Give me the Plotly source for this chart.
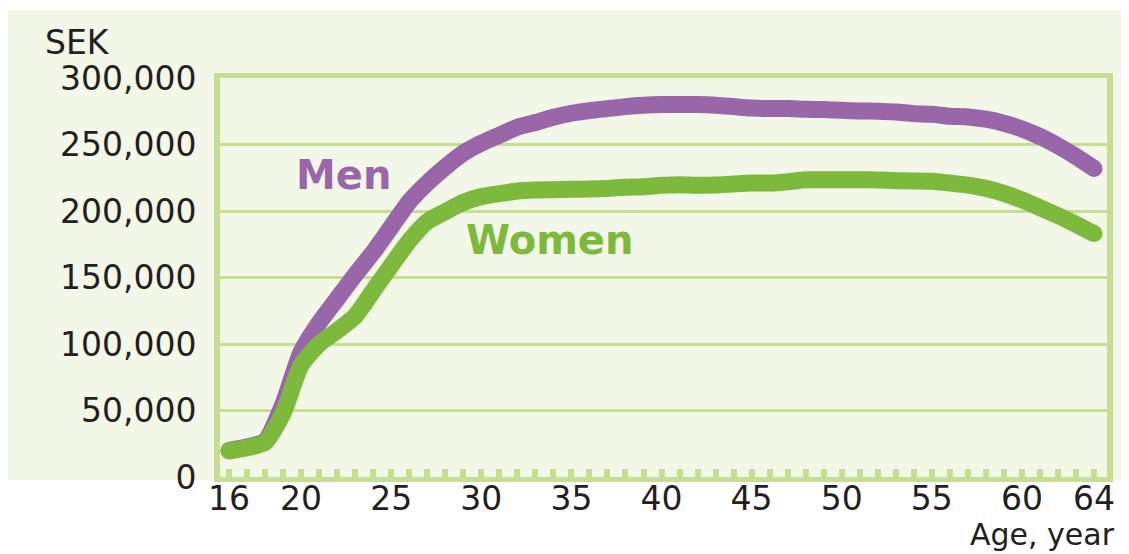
import plotly.graph_objects as go

ages = list(range(16, 65))
men = [20000, 22500, 27000, 55000, 94000, 116000, 134000, 152000, 169000, 188000,
       207000, 221000, 233000, 243500, 251000, 257000, 263000, 266500, 270500, 273500,
       275500, 277000, 278500, 279500, 280000, 280000, 280000, 279500, 278500, 277500,
       277000, 277000, 276500, 276300, 275700, 275200, 275000, 274400, 273200, 272700,
       271200, 270700, 269000, 266000, 261700, 256000, 249000, 241000, 232000]
women = [19500, 22000, 26000, 48000, 84000, 100000, 110000, 121000, 140000, 159000,
         177500, 192000, 199500, 206500, 210800, 213000, 215000, 215800, 216000, 216300,
         216500, 217000, 217800, 218300, 219300, 219800, 219300, 219500, 220300, 221000,
         221000, 222000, 223500, 223500, 223500, 223500, 223300, 222800, 222600, 222300,
         221000, 219500, 217000, 213300, 208300, 202500, 196500, 190000, 183000]
x_tickvals = [16, 20, 25, 30, 35, 40, 45, 50, 55, 60, 64]

PURPLE = "#9966aa"
GREEN = "#7cb93c"
LIGHT = "#c6de94"
BG = "#f3f7e8"
TXT = "#231f20"
LW = 17

OFF = 8  # page offset of the figure inside the browser window
W, H = 1129 - OFF, 554 - OFF
L, R, T, B = 220 - OFF, 22, 78 - OFF, 77
pw, ph = W - L - R, H - T - B

def px(xp):
    return (xp - OFF - L) / pw

def py(yp):
    return (H - B - (yp - OFF)) / ph

fig = go.Figure()
for vals, col in ((men, PURPLE), (women, GREEN)):
    fig.add_trace(go.Scatter(x=ages, y=vals, mode="lines",
                             line=dict(color=col, width=LW, shape="spline", smoothing=0.6),
                             hoverinfo="skip", showlegend=False))
    fig.add_trace(go.Scatter(x=[ages[0], ages[-1]], y=[vals[0], vals[-1]], mode="markers",
                             marker=dict(color=col, size=LW, line=dict(width=0)),
                             hoverinfo="skip", showlegend=False))

fig.add_annotation(x=22.33, y=227000, text="<b>Men</b>", showarrow=False,
                   font=dict(family="DejaVu Sans", size=40, color=PURPLE))
fig.add_annotation(x=33.8, y=178000, text="<b>Women</b>", showarrow=False,
                   font=dict(family="DejaVu Sans", size=40, color=GREEN))
fig.add_annotation(xref="paper", yref="paper", x=px(43), y=py(42), text="SEK",
                   xanchor="left", yanchor="middle", showarrow=False,
                   font=dict(family="DejaVu Sans", size=33, color=TXT))
fig.add_annotation(xref="paper", yref="paper", x=px(1116), y=py(553), text="Age, year",
                   xanchor="right", yanchor="bottom", showarrow=False, borderpad=0,
                   font=dict(family="DejaVu Sans", size=30, color=TXT))

fig.add_shape(type="rect", xref="paper", yref="paper", x0=px(7), x1=px(1129), y0=py(480), y1=py(10),
              fillcolor=BG, line=dict(width=0), layer="below")

fig.update_layout(
    width=W, height=H,
    margin=dict(l=L, r=R, t=T, b=B),
    paper_bgcolor="white", plot_bgcolor=BG,
    font=dict(family="DejaVu Sans", size=33, color=TXT),
    xaxis=dict(range=[15.5, 64.72], tickvals=x_tickvals, showgrid=False, zeroline=False,
               showline=True, linecolor=LIGHT, linewidth=5, mirror=True,
               ticks="inside", ticklen=8, tickwidth=6, tickcolor=LIGHT,
               ticklabelstandoff=-12,
               minor=dict(dtick=1, tick0=16, ticks="inside", ticklen=8, tickwidth=6,
                          tickcolor=LIGHT, showgrid=False)),
    yaxis=dict(range=[0, 300000], dtick=50000, tickformat=",d", showgrid=True,
               gridcolor=LIGHT, gridwidth=3, zeroline=False,
               showline=True, linecolor=LIGHT, linewidth=6, mirror=True,
               ticks="", ticklabelstandoff=11),
)

fig.write_html("out.html")
